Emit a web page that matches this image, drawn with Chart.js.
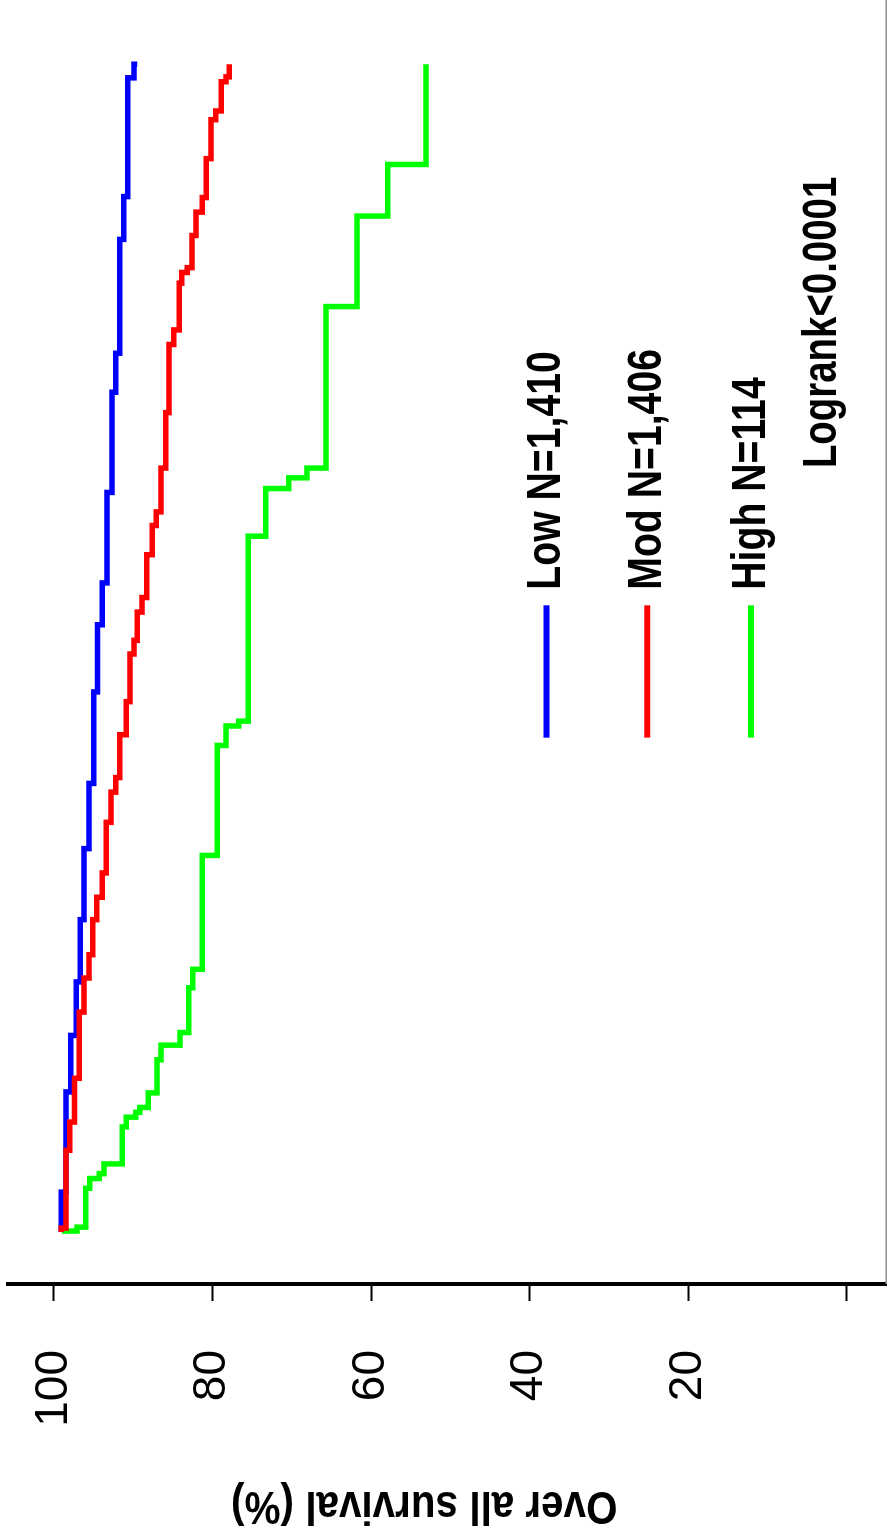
<!DOCTYPE html>
<html>
<head>
<meta charset="utf-8">
<script src="https://cdn.jsdelivr.net/npm/chart.js@4"></script>
<style>
  html, body { margin: 0; padding: 0; background: #fff; overflow: hidden; }
  /* the figure is printed turned a quarter turn anticlockwise */
  #wrap { position: absolute; left: 0; top: 0; width: 1539px; height: 887px;
          transform-origin: 0 0; transform: translate(0, 1539px) rotate(-90deg); }
</style>
</head>
<body>
<div id="wrap"><canvas id="km" width="1539" height="887"></canvas></div>
<script>
// follow-up time (months) and overall survival (%) at each step
const monthsLow = [0, 4.1, 14.4, 20.2, 25.7, 32.1, 39.4, 46.1, 55.5, 62.4, 66.7, 76.0, 86.3, 90.3, 102.0, 106.4, 118.6, 120];
const survLow   = [99.1, 98.5, 97.9, 97.2, 96.7, 96.2, 95.6, 95.0, 94.5, 93.9, 93.3, 92.7, 92.2, 91.7, 91.2, 90.7, 89.9, 89.5];

const monthsMod = [0, 0.4, 8.4, 11.3, 15.8, 22.6, 26.1, 28.5, 32.1, 34.4, 36.9, 42.1, 45.2, 46.7, 51.1, 54.5, 59.4, 60.8, 63.7, 65.2,
                   69.6, 72.6, 74.0, 78.5, 84.2, 91.2, 92.7, 97.5, 98.6, 99.1, 102.4, 104.8, 106.3, 110.3, 114.3, 115.2, 118.2, 118.7, 120];
const survMod   = [99.1, 98.5, 98.0, 97.4, 96.8, 96.2, 95.6, 95.1, 94.6, 93.9, 93.4, 92.8, 92.2, 91.7, 90.9, 90.4, 89.9, 89.5, 88.9, 88.3,
                   87.6, 87.1, 86.5, 85.9, 85.5, 84.9, 84.2, 83.9, 83.2, 82.6, 82.1, 81.3, 80.8, 80.2, 79.6, 78.9, 78.3, 77.9, 77.9];

const monthsHigh = [0, 0.1, 0.5, 4.5, 5.5, 6.0, 7.0, 10.8, 11.8, 12.3, 12.8, 14.3, 17.7, 19.2, 20.5, 25.1, 27.0, 38.7, 50.0, 52.0,
                    52.5, 71.5, 76.4, 77.5, 78.5, 95.1, 104.4, 109.7, 120];
const survHigh   = [99.0, 97.1, 96.0, 95.5, 94.3, 93.7, 91.4, 90.9, 89.7, 89.2, 88.1, 87.0, 86.5, 84.1, 83.0, 82.5, 81.3, 79.4, 78.3, 76.7,
                    75.5, 73.3, 70.4, 68.1, 65.7, 61.8, 57.9, 53.1, 53.1];

const groupLabels = ["Low N=1,410", "Mod N=1,406", "High N=114"];
const groupColors = ["#0000ff", "#ff0000", "#00ff00"];
const yTickValues = [0, 20, 40, 60, 80, 100];
const yTickLabels = ["", "20", "40", "60", "80", "100"];
const axisTitle = "Over all survival (%)";
const pValueText = "Logrank<0.0001";

// where the key sits, in axis units
const keyLine = [50.8, 64.4];
const keyTextAt = 66.0;
const keyRows = [37.9, 25.2, 12.1];
const pValueAt = [78.5, 3.0];

function toPoints(xs, ys) {
  return xs.map((x, i) => ({ x: x, y: ys[i] }));
}

function narrowText(ctx, text, x, y, size, squeeze, angle, align) {
  ctx.save();
  ctx.translate(x, y);
  if (angle) ctx.rotate(angle);
  ctx.scale(squeeze, 1);
  ctx.font = "bold " + size + "px 'Liberation Sans', Arial, sans-serif";
  ctx.fillStyle = "#000";
  ctx.textBaseline = "middle";
  ctx.textAlign = align || "left";
  ctx.fillText(text, 0, 0);
  ctx.restore();
}

const notes = {
  id: "notes",
  afterDraw(chart) {
    const ctx = chart.ctx, xs = chart.scales.x, ys = chart.scales.y, a = chart.chartArea;
    ctx.save();
    // thin frame edge opposite the axis
    ctx.strokeStyle = "#8c8c8c";
    ctx.lineWidth = 1.5;
    ctx.beginPath();
    ctx.moveTo(a.left, chart.height - 0.75);
    ctx.lineTo(chart.width, chart.height - 0.75);
    ctx.stroke();

    groupLabels.forEach((lab, i) => {
      const y = ys.getPixelForValue(keyRows[i]);
      ctx.strokeStyle = groupColors[i];
      ctx.lineWidth = 6;
      ctx.beginPath();
      ctx.moveTo(xs.getPixelForValue(keyLine[0]), y);
      ctx.lineTo(xs.getPixelForValue(keyLine[1]), y);
      ctx.stroke();
      narrowText(ctx, lab, xs.getPixelForValue(keyTextAt), y, 49, 0.8);
    });
    narrowText(ctx, pValueText, xs.getPixelForValue(pValueAt[0]), ys.getPixelForValue(pValueAt[1]), 48, 0.8);

    narrowText(ctx, axisTitle, 34, ys.getPixelForValue(53.3), 47, 0.86, -Math.PI / 2, "center");
    ctx.restore();
  }
};

new Chart(document.getElementById("km"), {
  type: "line",
  data: {
    datasets: [
      { label: groupLabels[1], data: toPoints(monthsMod, survMod), borderColor: groupColors[1], order: 0 },
      { label: groupLabels[0], data: toPoints(monthsLow, survLow), borderColor: groupColors[0], order: 1 },
      { label: groupLabels[2], data: toPoints(monthsHigh, survHigh), borderColor: groupColors[2], order: 2 },
    ],
  },
  options: {
    responsive: false,
    animation: false,
    devicePixelRatio: 1,
    layout: { padding: { top: 8, bottom: 0, left: 0, right: 0 } },
    elements: {
      line: { stepped: true, borderWidth: 5.5, fill: false, tension: 0 },
      point: { radius: 0, hoverRadius: 0 },
    },
    plugins: { legend: { display: false }, tooltip: { enabled: false } },
    scales: {
      x: { type: "linear", min: -5.34, max: 126.6, display: false },
      y: {
        type: "linear",
        position: "left",
        min: -5.05,
        max: 105.8,
        afterBuildTicks: (s) => { s.ticks = yTickValues.map((v) => ({ value: v })); },
        afterFit: (s) => {
          s.width = 255;
          s.paddingTop = 0;
          s.paddingBottom = 0;
        },
        ticks: {
          color: "#000",
          padding: 49,
          font: { family: "'Liberation Sans', Arial, sans-serif", size: 46 },
          callback: (v, i) => yTickLabels[i],
        },
        grid: { drawOnChartArea: false, tickLength: 17, tickWidth: 2, tickColor: "#000" },
        border: { display: true, color: "#000", width: 4 },
      },
    },
  },
  plugins: [notes],
});
</script>
</body>
</html>
